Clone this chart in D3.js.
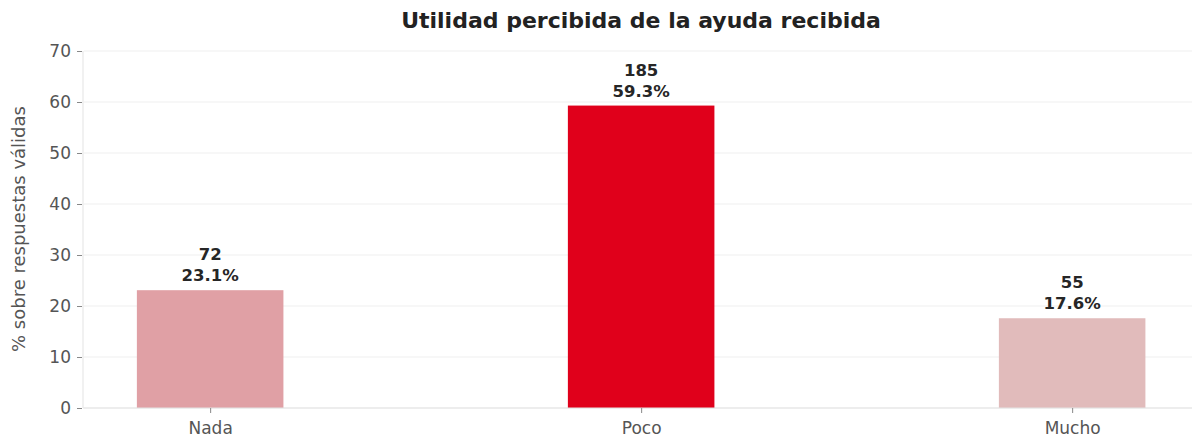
<!DOCTYPE html>
<html>
<head>
<meta charset="utf-8">
<script src="https://cdn.jsdelivr.net/npm/d3@7"></script>
<style>
  html, body { margin: 0; padding: 0; background: #fff; }
  svg { display: block; font-family: "DejaVu Sans", sans-serif; }
</style>
</head>
<body>
<svg id="chart" width="1192" height="438"></svg>
<script>
// Perceived usefulness of the aid received
const categories = ["Nada", "Poco", "Mucho"];
const counts = [72, 185, 55];
const percents = [23.1, 59.3, 17.6];
const barColors = ["#e0a0a5", "#e0001b", "#e1bbbb"];
const yTicks = [0, 10, 20, 30, 40, 50, 60, 70];

const FONT = "DejaVu Sans";
const svg = d3.select("#chart");
const W = 1192;
const y0 = 408;

const x = d3.scaleLinear()
  .domain([-0.295, 2.29])
  .range([83, 83 + 2.585 * 431]);
const y = d3.scaleLinear().domain([0, 70]).range([y0, 51]);
const barW = 0.34;

// grid
svg.append("g")
  .selectAll("line")
  .data(yTicks)
  .join("line")
  .attr("x1", 84).attr("x2", W)
  .attr("y1", d => y(d)).attr("y2", d => y(d))
  .attr("stroke", "#efefef").attr("stroke-width", 1);

// bars
svg.append("g")
  .selectAll("rect")
  .data(categories)
  .join("rect")
  .attr("x", (d, i) => x(i - barW / 2))
  .attr("width", (d, i) => x(i + barW / 2) - x(i - barW / 2))
  .attr("y", (d, i) => y(percents[i]))
  .attr("height", (d, i) => y(0) - y(percents[i]))
  .attr("fill", (d, i) => barColors[i]);

// y axis
const yAxis = d3.axisLeft(y).tickValues(yTicks).tickSize(5).tickPadding(6);
const gy = svg.append("g").attr("transform", "translate(82,0)").call(yAxis)
  .attr("font-family", FONT).attr("font-size", 17);
gy.select(".domain").attr("stroke", "#e3e3e3").attr("d", `M1,${y(70)}V${y0}`);
gy.selectAll(".tick line").attr("stroke", "#888");
gy.selectAll(".tick text").attr("fill", "#555");

// x axis
const xAxis = d3.axisBottom(x).tickValues([0, 1, 2])
  .tickFormat(i => categories[i]).tickSize(5).tickPadding(9);
const gx = svg.append("g").attr("transform", `translate(0,${y0})`).call(xAxis)
  .attr("font-family", FONT).attr("font-size", 17);
gx.select(".domain").attr("stroke", "#e3e3e3").attr("d", `M83,0H${W}`);
gx.selectAll(".tick line").attr("stroke", "#888");
gx.selectAll(".tick text").attr("fill", "#555");

// value labels: count above percentage
const lab = svg.append("g")
  .selectAll("text")
  .data(categories)
  .join("text")
  .attr("text-anchor", "middle")
  .attr("font-weight", "bold")
  .attr("font-size", 16.5)
  .attr("fill", "#262626");
lab.append("tspan")
  .attr("x", (d, i) => x(i))
  .attr("y", (d, i) => y(percents[i]) - 30)
  .text((d, i) => counts[i]);
lab.append("tspan")
  .attr("x", (d, i) => x(i))
  .attr("y", (d, i) => y(percents[i]) - 9)
  .text((d, i) => percents[i].toFixed(1) + "%");

// y axis title
svg.append("text")
  .attr("transform", `translate(25,229) rotate(-90)`)
  .attr("text-anchor", "middle")
  .attr("font-size", 18)
  .attr("fill", "#555")
  .text("% sobre respuestas válidas");

// title
svg.append("text")
  .attr("x", 641).attr("y", 28)
  .attr("text-anchor", "middle")
  .attr("font-weight", "bold")
  .attr("font-size", 22)
  .attr("fill", "#222")
  .text("Utilidad percibida de la ayuda recibida");
</script>
</body>
</html>
